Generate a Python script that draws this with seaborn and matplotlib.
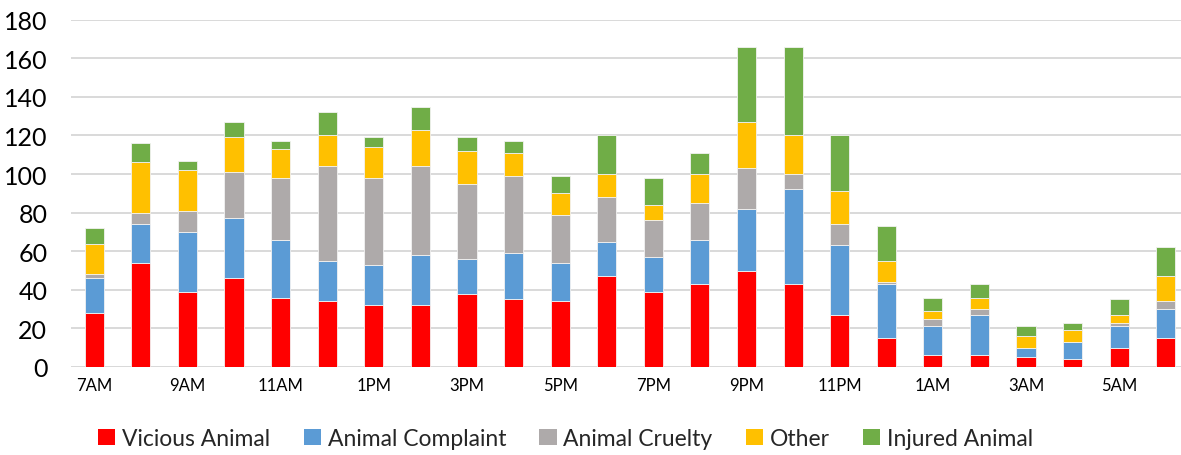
import numpy as np
import pandas as pd
import matplotlib
matplotlib.use("Agg")
import matplotlib.pyplot as plt
import seaborn as sns
from matplotlib.patches import Patch

hours = ["7AM", "8AM", "9AM", "10AM", "11AM", "12PM", "1PM", "2PM", "3PM", "4PM",
         "5PM", "6PM", "7PM", "8PM", "9PM", "10PM", "11PM", "12AM", "1AM", "2AM",
         "3AM", "4AM", "5AM", "6AM"]

vicious_animal = [28, 54, 39, 46, 36, 34, 32, 32, 38, 35, 34, 47, 39, 43, 50, 43, 27, 15, 6, 6, 5, 4, 10, 15]
animal_complaint = [18, 20, 31, 31, 30, 21, 21, 26, 18, 24, 20, 18, 18, 23, 32, 49, 36, 28, 15, 21, 5, 9, 11, 15]
animal_cruelty = [2, 6, 11, 24, 32, 49, 45, 46, 39, 40, 25, 23, 19, 19, 21, 8, 11, 1, 4, 3, 0, 0, 2, 4]
other = [16, 26, 21, 18, 15, 16, 16, 19, 17, 12, 11, 12, 8, 15, 24, 20, 17, 11, 4, 6, 6, 6, 4, 13]
injured_animal = [8, 10, 5, 8, 4, 12, 5, 12, 7, 6, 9, 20, 14, 11, 39, 46, 29, 18, 7, 7, 5, 4, 8, 15]

series_names = ["Vicious Animal", "Animal Complaint", "Animal Cruelty", "Other", "Injured Animal"]
series_values = [vicious_animal, animal_complaint, animal_cruelty, other, injured_animal]
series_colors = ["#FF0000", "#5B9BD5", "#AEAAAA", "#FFC000", "#70AD47"]

shown_labels = [h if i % 2 == 0 else "" for i, h in enumerate(hours)]

sns.set_theme(style="white")
plt.rcParams["font.family"] = ["Lato", "DejaVu Sans"]

fig = plt.figure(figsize=(11.81, 4.56), dpi=100)
ax = fig.add_axes([0.0601, 0.193, 0.9467, 0.7616])

bottom = np.zeros(len(hours))
for name, vals, col in zip(series_names, series_values, series_colors):
    df = pd.DataFrame({"hour": hours, "count": vals})
    sns.barplot(data=df, x="hour", y="count", order=hours, color=col,
                bottom=bottom.copy(), width=0.41, ax=ax,
                edgecolor="#f2f2f2", linewidth=0.6, saturation=1, zorder=3)
    bottom += np.array(vals)

ax.set_xlim(-0.5, len(hours) - 0.5)
ax.set_ylim(0, 180)
ax.set_yticks(np.arange(0, 181, 20))
ax.yaxis.grid(True, color="#D9D9D9", linewidth=1.4, zorder=0)
ax.set_axisbelow(True)
for s in ax.spines.values():
    s.set_visible(False)
ax.axhline(0, color="#D9D9D9", linewidth=1.4, zorder=1)

ax.set_xticks(range(len(hours)))
ax.set_xticklabels(shown_labels, fontsize=12, color="#000000")
ax.tick_params(axis="x", length=0, pad=7)
ax.tick_params(axis="y", length=0, pad=17, labelsize=18, labelcolor="#000000")
ax.set_xlabel("")
ax.set_ylabel("")

handles = [Patch(facecolor=c, edgecolor="none") for c in series_colors]
fig.legend(handles, series_names, loc="center", bbox_to_anchor=(0.479, 0.036),
           ncol=5, frameon=False, fontsize=16.5, handlelength=0.75, handleheight=0.75,
           handletextpad=0.3, columnspacing=1.45)

fig.savefig("out.png", dpi=100)
